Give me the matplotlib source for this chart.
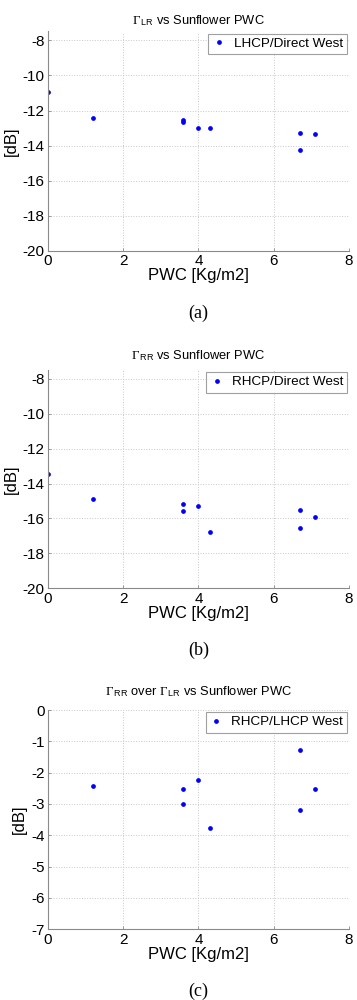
#!/usr/bin/env python3
"""Sunflower PWC scatter panels (a)-(c)."""

import matplotlib

matplotlib.use("Agg")
import matplotlib.pyplot as plt

pwc_lr = [0.0, 1.2, 3.6, 3.6, 4.0, 4.3, 6.7, 6.7, 7.1]
gamma_lr = [-10.93, -12.45, -12.55, -12.65, -13.02, -13.0, -13.28, -14.25, -13.36]

pwc_rr = [0.0, 1.2, 3.6, 3.6, 4.0, 4.3, 6.7, 6.7, 7.1]
gamma_rr = [-13.45, -14.89, -15.18, -15.56, -15.27, -16.77, -15.54, -16.56, -15.92]

pwc_ratio = [1.2, 3.6, 3.6, 4.0, 4.3, 6.7, 6.7, 7.1]
gamma_ratio = [-2.44, -2.52, -3.0, -2.22, -3.76, -1.27, -3.20, -2.52]

panels = [
    (pwc_lr, gamma_lr, r"$\Gamma_{\,\mathsf{LR}}$ vs Sunflower PWC", "LHCP/Direct West",
     (-20, -7.5), [-20, -18, -16, -14, -12, -10, -8], "(a)", 5.5),
    (pwc_rr, gamma_rr, r"$\Gamma_{\,\mathsf{RR}}$ vs Sunflower PWC", "RHCP/Direct West",
     (-20, -7.5), [-20, -18, -16, -14, -12, -10, -8], "(b)", 8),
    (pwc_ratio, gamma_ratio,
     r"$\Gamma_{\,\mathsf{RR}}$ over $\Gamma_{\,\mathsf{LR}}$ vs Sunflower PWC",
     "RHCP/LHCP West", (-7, 0), [-7, -6, -5, -4, -3, -2, -1, 0], "(c)", 11),
]

# axes boxes in figure fractions: left, bottom, width, height
boxes = [
    (0.1345, 0.749, 0.843, 0.2195),
    (0.1345, 0.4117, 0.843, 0.2183),
    (0.1345, 0.0707, 0.843, 0.2193),
]

plt.rcParams["font.family"] = ["Liberation Sans", "DejaVu Sans"]
plt.rcParams["axes.unicode_minus"] = False
plt.rcParams["mathtext.fontset"] = "custom"
plt.rcParams["mathtext.rm"] = "Liberation Serif"
plt.rcParams["mathtext.it"] = "Liberation Serif:italic"
plt.rcParams["mathtext.sf"] = "Liberation Sans"

fig = plt.figure(figsize=(3.57, 10), dpi=100)
spine_col = "#8a8a8a"

for (xs, ys, title, label, ylim, yticks, cap, tpad), box in zip(panels, boxes):
    ax = fig.add_axes(box)
    ax.plot(xs, ys, linestyle="none", marker="o", markersize=2.4,
            color="#0000ff", label=label)
    ax.set_xlim(0, 8)
    ax.set_ylim(*ylim)
    ax.set_xticks([0, 2, 4, 6, 8])
    ax.set_yticks(yticks)
    ax.grid(True, color="#c8c8c8", linestyle=":", linewidth=0.7)
    for side in ("top", "right"):
        ax.spines[side].set_visible(False)
    for side in ("left", "bottom"):
        ax.spines[side].set_color(spine_col)
        ax.spines[side].set_linewidth(0.8)
    ax.tick_params(direction="in", length=2.5, width=0.6, color=spine_col,
                   labelsize=11, pad=2.5)
    ax.set_xlabel("PWC [Kg/m2]", fontsize=12, labelpad=0)
    ax.set_ylabel("[dB]", fontsize=12, labelpad=3)
    ax.set_title(title, fontsize=9.3, pad=tpad)
    leg = ax.legend(loc="upper right", fontsize=9.7, frameon=True, fancybox=False,
                    handlelength=1.0, handletextpad=0.6, borderpad=0.3,
                    borderaxespad=0.15, markerscale=1.0)
    leg.get_frame().set_edgecolor("#888888")
    leg.get_frame().set_linewidth(0.8)
    ax.text(0.5, -0.285, cap, transform=ax.transAxes, ha="center", va="center",
            fontsize=13, family="Liberation Serif")

fig.savefig("out.png", dpi=100)
